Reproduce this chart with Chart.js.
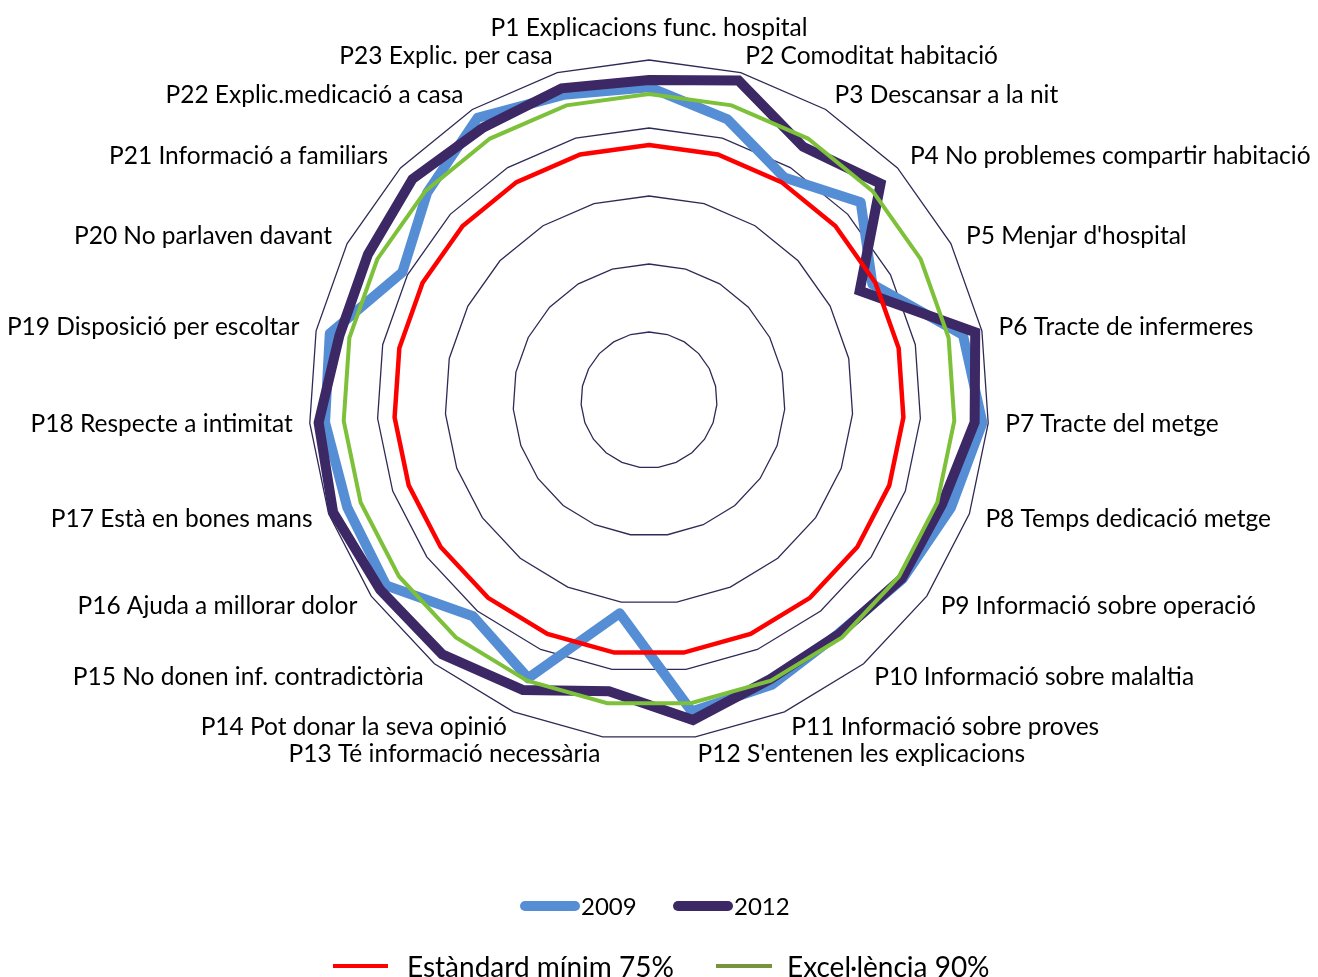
<!DOCTYPE html>
<html>
<head>
<meta charset="utf-8">
<script src="https://cdn.jsdelivr.net/npm/chart.js@4.4.1/dist/chart.umd.min.js"></script>
<style>
html,body{margin:0;padding:0;background:#fff;}
#wrap{position:relative;width:1318px;height:977px;overflow:hidden;background:#fff;}
#c{position:absolute;left:0;top:0;}
.sw{position:absolute;}
.lt{position:absolute;font-family:Lato,"Open Sans",sans-serif;color:#000;white-space:nowrap;line-height:30px;height:30px;}
</style>
</head>
<body>
<div id="wrap">
<canvas id="c" width="1318" height="977"></canvas>
</div>
<script>
const categories = [
  "P1 Explicacions func. hospital",
  "P2 Comoditat habitació",
  "P3 Descansar a la nit",
  "P4 No problemes compartir habitació",
  "P5 Menjar d'hospital",
  "P6 Tracte de infermeres",
  "P7 Tracte del metge",
  "P8 Temps dedicació metge",
  "P9 Informació sobre operació",
  "P10 Informació sobre malaltia",
  "P11 Informació sobre proves",
  "P12 S'entenen les explicacions",
  "P13 Té informació necessària",
  "P14 Pot donar la seva opinió",
  "P15 No donen inf. contradictòria",
  "P16 Ajuda a millorar dolor",
  "P17 Està en bones mans",
  "P18 Respecte a intimitat",
  "P19 Disposició per escoltar",
  "P20 No parlaven davant",
  "P21 Informació a familiars",
  "P22 Explic.medicació a casa",
  "P23 Explic. per casa"
];
const values2009 = [92, 85.7, 76.6, 85.2, 74, 94.3, 98.3, 94.3, 91.3, 88.5, 91.2, 92.5, 63.3, 89.2, 82, 94.6, 94.2, 95.5, 95.9, 81.7, 89.3, 97.1, 93.2];
const values2012 = [94.1, 97.6, 87.2, 93.2, 69.8, 98, 96, 91.5, 91, 88.7, 89.5, 95, 86.5, 93, 96.4, 96.8, 98.6, 97.4, 93, 93.1, 95.2, 93.8, 95.2];
const standard75 = [75, 75, 75, 75, 75, 75, 75, 75, 75, 75, 75, 75, 75, 75, 75, 75, 75, 75, 75, 75, 75, 75, 75];
const excel90 = [90, 90, 90, 90, 90, 90, 90, 90, 90, 90, 90, 90, 90, 90, 90, 90, 90, 90, 90, 90, 90, 90, 90];
const seriesNames = ["2009", "2012", "Estàndard mínim 75%", "Excel·lència 90%"];
const scaleTicks = [0, 20, 40, 60, 80, 100];

const labelFont = '24.5px Lato, "Open Sans", sans-serif';

const pointLabelPlugin = {
  id: 'customPointLabels',
  afterDraw(chart) {
    const scale = chart.scales.r;
    const ctx = chart.ctx;
    ctx.save();
    ctx.font = labelFont;
    ctx.fillStyle = '#000';
    ctx.textBaseline = 'middle';
    categories.forEach((lab, i) => {
      const p = scale.getPointPosition(i, scale.drawingArea + 17);
      let x = p.x, y = p.y;
      if (Math.abs(x - scale.xCenter) < 2) {
        ctx.textAlign = 'center';
        y = y - 15;
      } else if (x > scale.xCenter) {
        ctx.textAlign = 'left';
      } else {
        ctx.textAlign = 'right';
      }
      ctx.fillText(lab, x, y);
    });
    ctx.restore();
  }
};

const chart = new Chart(document.getElementById('c'), {
  type: 'radar',
  data: {
    labels: categories,
    datasets: [
      { label: seriesNames[0], data: values2009, borderColor: '#558ED5', borderWidth: 10, fill: false, pointRadius: 0, borderJoinStyle: 'round', order: 4 },
      { label: seriesNames[1], data: values2012, borderColor: '#3C2864', borderWidth: 10, fill: false, pointRadius: 0, borderJoinStyle: 'miter', order: 3 },
      { label: seriesNames[2], data: standard75, borderColor: '#FF0000', borderWidth: 4.5, fill: false, pointRadius: 0, order: 1 },
      { label: seriesNames[3], data: excel90, borderColor: '#7DC03A', borderWidth: 4, fill: false, pointRadius: 0, order: 2 }
    ]
  },
  options: {
    responsive: false,
    animation: false,
    devicePixelRatio: 1,
    layout: { padding: { left: 309, right: 329, top: 60, bottom: 237 } },
    plugins: { legend: { display: false }, tooltip: { enabled: false } },
    elements: { line: { tension: 0 } },
    scales: {
      r: {
        min: scaleTicks[0],
        max: scaleTicks[scaleTicks.length - 1],
        ticks: { display: false, stepSize: scaleTicks[1] - scaleTicks[0] },
        grid: { color: '#2E2A55', lineWidth: 1.3 },
        angleLines: { display: false },
        pointLabels: { display: false }
      }
    }
  },
  plugins: [pointLabelPlugin]
});

// HTML legend built from dataset properties
const wrap = document.getElementById('wrap');
function addItem(swLeft, swWidth, swHeight, color, radius, textLeft, cy, text, fontSize) {
  const s = document.createElement('div');
  s.className = 'sw';
  s.style.left = swLeft + 'px';
  s.style.width = swWidth + 'px';
  s.style.height = swHeight + 'px';
  s.style.top = (cy - swHeight / 2) + 'px';
  s.style.background = color;
  s.style.borderRadius = radius + 'px';
  wrap.appendChild(s);
  const t = document.createElement('div');
  t.className = 'lt';
  t.style.left = textLeft + 'px';
  t.style.top = (cy - 15) + 'px';
  t.style.fontSize = fontSize + 'px';
  t.textContent = text;
  wrap.appendChild(t);
}
const ds = chart.data.datasets;
addItem(520, 60, 10, ds[0].borderColor, 5, 581, 906, ds[0].label, 24);
addItem(673, 60, 10, ds[1].borderColor, 5, 734, 906, ds[1].label, 24);
addItem(333, 55, 4, ds[2].borderColor, 0, 407, 966, ds[2].label, 28);
addItem(716, 56, 4, '#77933C', 0, 787, 966, ds[3].label, 28);
</script>
</body>
</html>
